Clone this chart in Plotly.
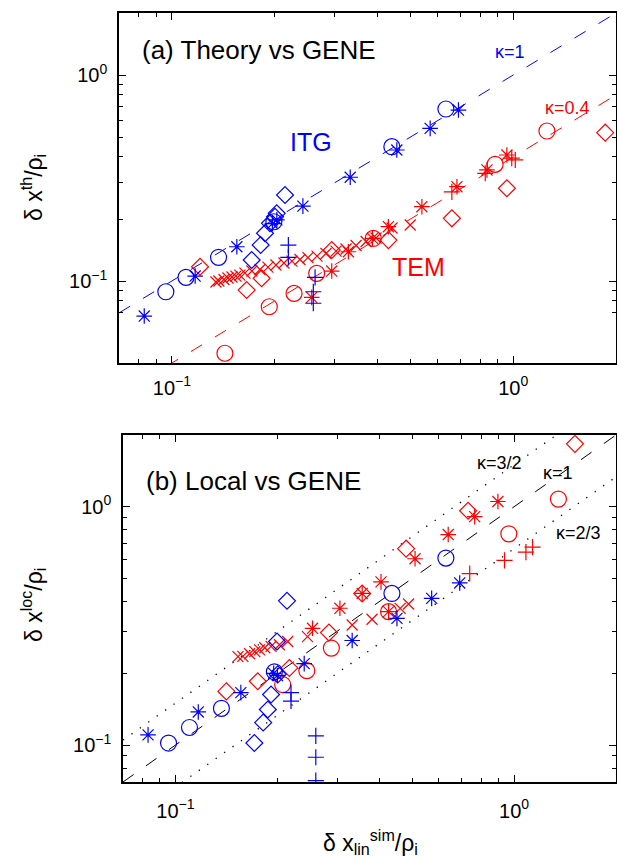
import numpy as np
import plotly.graph_objects as go

# ---------------- data : panel (a) Theory vs GENE ----------------
a_itg_star_x = [0.083, 0.117, 0.155, 0.197, 0.203, 0.242, 0.333, 0.456, 0.571, 0.691]
a_itg_star_y = [0.0676, 0.1057, 0.1467, 0.190, 0.198, 0.231, 0.319, 0.4325, 0.551, 0.676]
a_itg_circ_x = [0.096, 0.110, 0.137, 0.199, 0.441, 0.635]
a_itg_circ_y = [0.0887, 0.1042, 0.1303, 0.194, 0.449, 0.684]
a_itg_diam_x = [0.1713, 0.182, 0.1874, 0.1938, 0.2005, 0.2028, 0.2145]
a_itg_diam_y = [0.1265, 0.1495, 0.1705, 0.1906, 0.205, 0.213, 0.2615]
a_itg_plus_x = [0.2194, 0.2194, 0.2627, 0.2596, 0.2596]
a_itg_plus_y = [0.1495, 0.1303, 0.1042, 0.0887, 0.078]

a_tem_x_x = [0.1346, 0.1373, 0.1421, 0.146, 0.150, 0.154, 0.1582, 0.1637, 0.1716, 0.1812,
             0.1912, 0.2018, 0.2130, 0.2248, 0.2373, 0.2504, 0.2662, 0.2828, 0.3027, 0.3238,
             0.3464, 0.3707, 0.3964, 0.4416, 0.499]
a_tem_x_y = [0.0989, 0.100, 0.1017, 0.1034, 0.1046, 0.1057, 0.1069, 0.1093, 0.1118, 0.1137,
             0.1169, 0.1196, 0.1223, 0.125, 0.1272, 0.130, 0.1322, 0.136, 0.1398, 0.143,
             0.1487, 0.1555, 0.1617, 0.1809, 0.187]
a_tem_star_x = [0.2568, 0.294, 0.3289, 0.387, 0.4308, 0.54, 0.684, 0.8375, 0.958]
a_tem_star_y = [0.0833, 0.1118, 0.1387, 0.161, 0.1835, 0.2295, 0.287, 0.346, 0.409]
a_tem_circ_x = [0.143, 0.1929, 0.228, 0.2656, 0.389, 0.885, 1.255]
a_tem_circ_y = [0.0446, 0.075, 0.0871, 0.109, 0.161, 0.3685, 0.535]
a_tem_diam_x = [0.1209, 0.1656, 0.1832, 0.294, 0.4308, 0.661, 0.958, 1.86]
a_tem_diam_y = [0.1173, 0.0904, 0.1031, 0.1414, 0.158, 0.2015, 0.282, 0.525]
a_tem_plus_x = [0.661, 0.828, 0.99, 1.014]
a_tem_plus_y = [0.271, 0.3334, 0.395, 0.387]

# ---------------- data : panel (b) Local vs GENE ----------------
b_itg_star_x = [0.083, 0.1168, 0.156, 0.195, 0.200, 0.240, 0.3326, 0.451, 0.571, 0.691]
b_itg_star_y = [0.1104, 0.1377, 0.166, 0.200, 0.196, 0.2196, 0.2746, 0.340, 0.4125, 0.479]
b_itg_circ_x = [0.0954, 0.110, 0.1367, 0.196, 0.4358, 0.629]
b_itg_circ_y = [0.102, 0.1185, 0.1426, 0.203, 0.4328, 0.609]
b_itg_diam_x = [0.171, 0.1816, 0.1874, 0.1916, 0.2005, 0.1995, 0.2135]
b_itg_diam_y = [0.102, 0.1243, 0.141, 0.163, 0.198, 0.272, 0.403]
b_itg_plus_x = [0.2194, 0.2194, 0.2597, 0.2597, 0.2597]
b_itg_plus_y = [0.166, 0.153, 0.1093, 0.0889, 0.071]

b_tem_x_x = [0.153, 0.1582, 0.1656, 0.1716, 0.1772, 0.1836, 0.1916, 0.2028, 0.2145, 0.2455,
             0.3326, 0.3807, 0.4609, 0.488]
b_tem_x_y = [0.235, 0.2355, 0.2416, 0.2465, 0.251, 0.256, 0.2594, 0.2636, 0.272, 0.2853,
             0.319, 0.3373, 0.3747, 0.3908]
b_tem_star_x = [0.254, 0.306, 0.356, 0.4046, 0.426, 0.51, 0.639, 0.765, 0.896]
b_tem_star_y = [0.309, 0.375, 0.4327, 0.4837, 0.363, 0.605, 0.7646, 0.9087, 1.052]
b_tem_circ_x = [0.2073, 0.2443, 0.2887, 0.426, 0.965, 1.352]
b_tem_circ_y = [0.1795, 0.2053, 0.2553, 0.363, 0.7696, 1.077]
b_tem_diam_x = [0.1414, 0.175, 0.217, 0.284, 0.356, 0.48, 0.7314, 1.513]
b_tem_diam_y = [0.168, 0.1853, 0.2107, 0.2965, 0.4327, 0.667, 0.962, 1.836]
b_tem_plus_x = [0.7396, 0.937, 1.084, 1.134]
b_tem_plus_y = [0.5244, 0.5957, 0.6451, 0.6767]

# reference lines  y = kappa * x
line_x = [0.07, 2.0]
kappa_a_itg = 1.0
kappa_a_tem = 0.4
kappa_b = [1.0, 1.5, 2.0 / 3.0]

tick_vals = [0.1, 1.0]
tick_text = ["10<sup>\u22121</sup>", "10<sup>0</sup>"]
minor_vals = [0.07, 0.08, 0.09, 0.2, 0.3, 0.4, 0.5, 0.6, 0.7, 0.8, 0.9, 2.0]

BLUE = "#0000FF"
RED = "#FF0000"
FONT = "Liberation Sans, Arial, Helvetica, sans-serif"

SYM = {
    "star": ("asterisk-open", 13),
    "circ": ("circle-open", 16),
    "diam": ("diamond-open", 13),
    "plus": ("cross-thin-open", 11.5),
    "x": ("x-thin-open", 11),
}

fig = go.Figure()

# lines
fig.add_trace(go.Scatter(x=line_x, y=[kappa_a_itg * v for v in line_x], mode="lines",
                         line=dict(color=BLUE, width=1, dash="13px,15px"),
                         xaxis="x", yaxis="y", hoverinfo="skip"))
fig.add_trace(go.Scatter(x=line_x, y=[kappa_a_tem * v for v in line_x], mode="lines",
                         line=dict(color=RED, width=1, dash="13px,15px"),
                         xaxis="x", yaxis="y", hoverinfo="skip"))
for i, k in enumerate(kappa_b):
    fig.add_trace(go.Scatter(x=line_x, y=[k * v for v in line_x], mode="lines",
                             line=dict(color="black", width=1 if i == 0 else 1.3,
                                       dash="13px,15px" if i == 0 else "1.3px,9px"),
                             xaxis="x2", yaxis="y2", hoverinfo="skip"))

series = [
    ("a", a_tem_x_x, a_tem_x_y, "x", RED),
    ("a", a_tem_star_x, a_tem_star_y, "star", RED),
    ("a", a_tem_circ_x, a_tem_circ_y, "circ", RED),
    ("a", a_tem_diam_x, a_tem_diam_y, "diam", RED),
    ("a", a_tem_plus_x, a_tem_plus_y, "plus", RED),
    ("a", a_itg_star_x, a_itg_star_y, "star", BLUE),
    ("a", a_itg_circ_x, a_itg_circ_y, "circ", BLUE),
    ("a", a_itg_diam_x, a_itg_diam_y, "diam", BLUE),
    ("a", a_itg_plus_x, a_itg_plus_y, "plus", BLUE),
    ("b", b_tem_x_x, b_tem_x_y, "x", RED),
    ("b", b_tem_star_x, b_tem_star_y, "star", RED),
    ("b", b_tem_circ_x, b_tem_circ_y, "circ", RED),
    ("b", b_tem_diam_x, b_tem_diam_y, "diam", RED),
    ("b", b_tem_plus_x, b_tem_plus_y, "plus", RED),
    ("b", b_itg_star_x, b_itg_star_y, "star", BLUE),
    ("b", b_itg_circ_x, b_itg_circ_y, "circ", BLUE),
    ("b", b_itg_diam_x, b_itg_diam_y, "diam", BLUE),
    ("b", b_itg_plus_x, b_itg_plus_y, "plus", BLUE),
]
for panel, xs, ys, kind, col in series:
    sym, size = SYM[kind]
    fig.add_trace(go.Scatter(
        x=xs, y=ys, mode="markers",
        marker=dict(symbol=sym, size=size, color=col, line=dict(color=col, width=1.2)),
        xaxis="x" if panel == "a" else "x2", yaxis="y" if panel == "a" else "y2",
        hoverinfo="skip"))

W, H = 617, 864


def axis(domain, rng, anchor, standoff=6):
    return dict(
        type="log", domain=domain, range=[np.log10(rng[0]), np.log10(rng[1])], anchor=anchor,
        showline=True, linecolor="black", linewidth=1.5, mirror="ticks",
        ticks="inside", ticklen=7, tickwidth=1, tickcolor="black",
        tickmode="array", tickvals=tick_vals, ticktext=tick_text,
        ticklabelstandoff=standoff,
        tickfont=dict(family=FONT, size=20, color="black"),
        minor=dict(tickmode="array", tickvals=minor_vals, ticks="inside", ticklen=4,
                   tickwidth=1, tickcolor="black", showgrid=False),
        showgrid=False, zeroline=False)


fig.update_layout(
    width=W, height=H, margin=dict(l=0, r=0, t=0, b=0),
    paper_bgcolor="white", plot_bgcolor="white", showlegend=False,
    xaxis=axis([119 / W, 616 / W], [0.07, 2.0], "y"),
    yaxis=axis([1 - 363 / H, 1 - 13 / H], [0.04, 2.0], "x"),
    xaxis2=axis([123 / W, 616 / W], [0.07, 2.0], "y2", standoff=10),
    yaxis2=axis([1 - 782 / H, 1 - 435 / H], [0.07, 2.0], "x2"),
)

ann = []
txt = dict(family=FONT, size=26, color="black")
ann.append(dict(text="(a) Theory vs GENE", x=np.log10(0.0806), y=np.log10(1.322), xref="x", yref="y",
                xanchor="left", yanchor="middle", showarrow=False, font=txt))
ann.append(dict(text="(b) Local vs GENE", x=np.log10(0.0806), y=np.log10(1.283), xref="x2", yref="y2",
                xanchor="left", yanchor="middle", showarrow=False, font=txt))
ann.append(dict(text="ITG", x=np.log10(0.2557), y=np.log10(0.473), xref="x", yref="y",
                showarrow=False, font=dict(family=FONT, size=25, color=BLUE)))
ann.append(dict(text="TEM", x=np.log10(0.5266), y=np.log10(0.117), xref="x", yref="y",
                showarrow=False, font=dict(family=FONT, size=25, color=RED)))
kf = 18
ann.append(dict(text="\u03ba=1", x=np.log10(0.98), y=np.log10(1.293), xref="x", yref="y",
                showarrow=False, font=dict(family=FONT, size=kf, color=BLUE)))
ann.append(dict(text="\u03ba=0.4", x=np.log10(1.44), y=np.log10(0.691), xref="x", yref="y",
                showarrow=False, font=dict(family=FONT, size=kf, color=RED)))
ann.append(dict(text="\u03ba=3/2", x=np.log10(0.904), y=np.log10(1.525), xref="x2", yref="y2",
                showarrow=False, font=dict(family=FONT, size=kf, color="black")))
ann.append(dict(text="\u03ba=1", x=np.log10(1.346), y=np.log10(1.386), xref="x2", yref="y2",
                showarrow=False, font=dict(family=FONT, size=kf, color="black")))
ann.append(dict(text="\u03ba=2/3", x=np.log10(1.55), y=np.log10(0.779), xref="x2", yref="y2",
                showarrow=False, font=dict(family=FONT, size=kf, color="black")))
# axis titles
tf = dict(family=FONT, size=23, color="black")
ann.append(dict(text="\u03b4 x<sup>th</sup>/\u03c1<sub>i</sub>", x=33 / W, y=1 - 188 / H,
                xref="paper", yref="paper", xanchor="center", yanchor="middle",
                textangle=-90, showarrow=False, font=tf))
ann.append(dict(text="\u03b4 x<sup>loc</sup>/\u03c1<sub>i</sub>", x=33 / W, y=1 - 605 / H,
                xref="paper", yref="paper", xanchor="center", yanchor="middle",
                textangle=-90, showarrow=False, font=tf))
ann.append(dict(text="\u03b4 x<sub>lin</sub><sup>sim</sup>/\u03c1<sub>i</sub>", x=370 / W, y=1 - 842 / H,
                xref="paper", yref="paper", xanchor="center", yanchor="middle",
                showarrow=False, font=tf))
fig.update_layout(annotations=ann)

fig.write_html("out.html")
